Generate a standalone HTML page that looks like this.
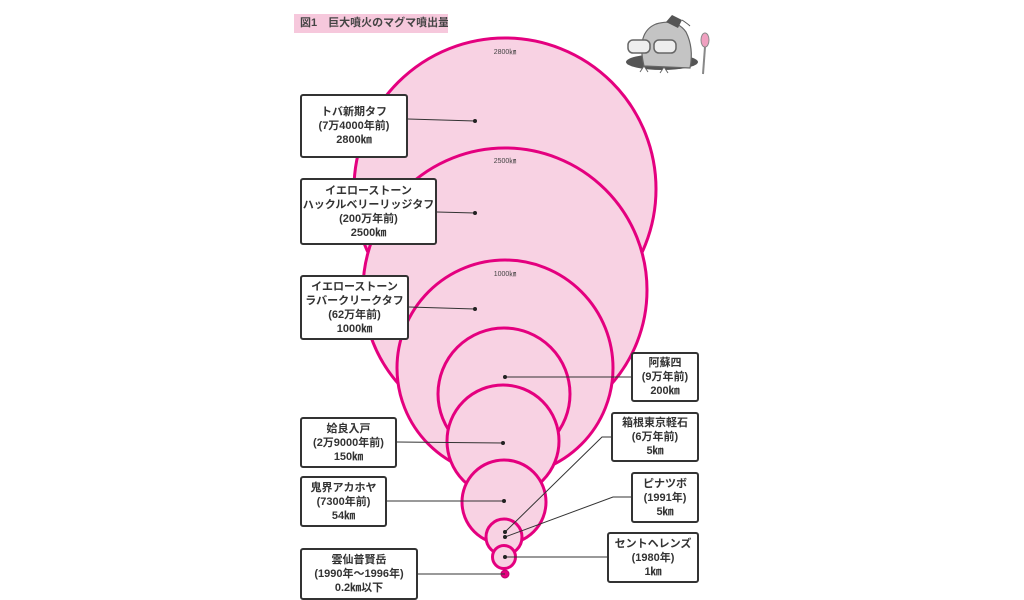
<!DOCTYPE html>
<html><head><meta charset="utf-8"><style>
body{margin:0;width:1024px;height:600px;background:#fff;position:relative;overflow:hidden;font-family:"Liberation Sans","Noto Sans CJK JP",sans-serif;}
.b{position:absolute;border:2px solid #333;border-radius:3px;background:#fff;box-sizing:border-box;display:flex;flex-direction:column;justify-content:center;align-items:center;font-size:11px;font-weight:bold;color:#333;line-height:14px;text-align:center;white-space:nowrap}
.t{position:absolute;left:294px;top:14px;width:154px;height:19px;background:#f6c8dc;font-size:11px;font-weight:bold;color:#444;line-height:19px;padding-left:6px;box-sizing:border-box;white-space:nowrap;overflow:hidden}
</style></head><body>
<svg width="1024" height="600" style="position:absolute;left:0;top:0">
<g fill="#f8d2e3" stroke="#e4007f" stroke-width="3">
<circle cx="505" cy="189" r="151"/>
<circle cx="505" cy="290" r="142"/>
<circle cx="505" cy="368" r="108"/>
<circle cx="504" cy="394" r="66"/>
<circle cx="503" cy="441" r="56"/>
<circle cx="504" cy="502" r="42"/>
<circle cx="504" cy="537" r="18"/>
<circle cx="504" cy="557" r="11.5"/>
</g>
<circle cx="505" cy="574" r="4" fill="#e4007f" stroke="#c00070" stroke-width="1"/>
<g font-size="7" fill="#444" text-anchor="middle" font-family="Liberation Sans,Noto Sans CJK JP,sans-serif">
<text x="505" y="54">2800㎞</text><text x="505" y="163">2500㎞</text><text x="505" y="276">1000㎞</text>
</g>
<g stroke="#333" stroke-width="1" fill="none">
<line x1="408" y1="119" x2="475" y2="121"/>
<line x1="437" y1="212" x2="475" y2="213"/>
<line x1="409" y1="307" x2="475" y2="309"/>
<line x1="631" y1="377" x2="505" y2="377"/>
<line x1="397" y1="442" x2="503" y2="443"/>
<polyline points="611,437 602,437 505,532"/>
<line x1="387" y1="501" x2="504" y2="501"/>
<polyline points="631,497 613,497 505,537"/>
<line x1="607" y1="557" x2="505" y2="557"/>
<line x1="418" y1="574" x2="505" y2="574"/>
</g>
<g fill="#222">
<circle cx="475" cy="121" r="2"/><circle cx="475" cy="213" r="2"/><circle cx="475" cy="309" r="2"/><circle cx="505" cy="377" r="2"/><circle cx="503" cy="443" r="2"/><circle cx="504" cy="501" r="2"/><circle cx="505" cy="532" r="2"/><circle cx="505" cy="537" r="2"/><circle cx="505" cy="557" r="2"/>
</g>
<!-- mole -->
<ellipse cx="662" cy="62" rx="36" ry="8" fill="#555"/>
<path d="M644 66 Q636 32 656 24 Q676 18 686 32 Q694 48 690 68 Z" fill="#c4c4c4" stroke="#666" stroke-width="1.2"/>
<path d="M666 22 L672 15 L682 20 L678 28 Z" fill="#555"/>
<path d="M682 20 Q688 24 690 26" stroke="#555" fill="none"/>
<rect x="628" y="40" width="22" height="13" rx="5" fill="#eee" stroke="#666" stroke-width="1.5"/>
<rect x="654" y="40" width="22" height="13" rx="5" fill="#eee" stroke="#666" stroke-width="1.5"/>
<path d="M640 72 l4 -6 l4 6 M660 73 l4 -6 l4 6" stroke="#666" fill="#fff"/>
<ellipse cx="705" cy="40" rx="4" ry="7" fill="#f0a0c0" stroke="#888"/>
<line x1="705" y1="47" x2="703" y2="74" stroke="#888" stroke-width="2"/>
</svg>
<div class="t">図1　巨大噴火のマグマ噴出量</div>
<div class="b" style="left:300px;top:94px;width:108px;height:64px">トバ新期タフ<br>(7万4000年前)<br>2800㎞</div>
<div class="b" style="left:300px;top:178px;width:137px;height:67px">イエローストーン<br>ハックルベリーリッジタフ<br>(200万年前)<br>2500㎞</div>
<div class="b" style="left:300px;top:275px;width:109px;height:65px">イエローストーン<br>ラバークリークタフ<br>(62万年前)<br>1000㎞</div>
<div class="b" style="left:631px;top:352px;width:68px;height:50px">阿蘇四<br>(9万年前)<br>200㎞</div>
<div class="b" style="left:300px;top:417px;width:97px;height:51px">姶良入戸<br>(2万9000年前)<br>150㎞</div>
<div class="b" style="left:611px;top:412px;width:88px;height:50px">箱根東京軽石<br>(6万年前)<br>5㎞</div>
<div class="b" style="left:300px;top:476px;width:87px;height:51px">鬼界アカホヤ<br>(7300年前)<br>54㎞</div>
<div class="b" style="left:631px;top:472px;width:68px;height:51px">ピナツボ<br>(1991年)<br>5㎞</div>
<div class="b" style="left:607px;top:532px;width:92px;height:51px">セントヘレンズ<br>(1980年)<br>1㎞</div>
<div class="b" style="left:300px;top:548px;width:118px;height:52px">雲仙普賢岳<br>(1990年～1996年)<br>0.2㎞以下</div>
</body></html>
